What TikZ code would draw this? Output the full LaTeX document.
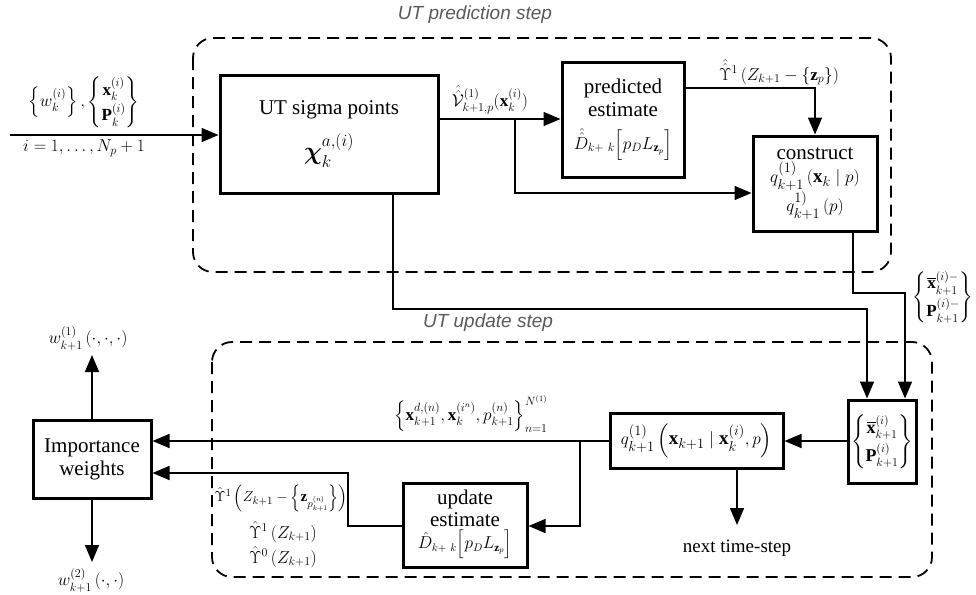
\documentclass[tikz,border=0pt]{standalone}
\usepackage{amsmath,amssymb,bm}
\usepackage{fontspec}
\setmainfont{Liberation Serif}
\newfontfamily\lsans{Liberation Sans}
\usetikzlibrary{arrows.meta}
\begin{document}
\begin{tikzpicture}[x=1pt,y=-1pt,
  box/.style={draw, line width=3pt, align=center, inner sep=0pt, font=\fontsize{21}{23}\selectfont},
  conn/.style={line width=1.6pt},
  arr/.style={conn, -{Triangle[length=17pt,width=14pt]}},
  grp/.style={draw, dash pattern=on 12pt off 7pt, line width=1.8pt, rounded corners=20pt},
  lbl/.style={font=\fontsize{17}{20}\selectfont, inner sep=0pt},
  steplbl/.style={font=\lsans\itshape\fontsize{19}{22}\selectfont, text=black!65, inner sep=0pt}]
\useasboundingbox (0,0) rectangle (976,594);

% group frames
\draw[grp] (193,38) rectangle (891,272);
\draw[grp] (212,342) rectangle (932,577);
\node[steplbl] (tp) at (475,15) {UT prediction step};
\node[steplbl] (tu) at (488,323) {UT update step};

% boxes
\node[box, minimum width=218pt, minimum height=118pt] (sigma) at (329,134) {UT sigma points\\[14pt]{\fontsize{27}{29}\selectfont$\boldsymbol{\chi}_k^{a,(i)}$}};
\node[box, minimum width=122pt, minimum height=115pt] (pred) at (623,119.5) {predicted\\estimate\\[10pt]{\fontsize{17}{20}\selectfont$\hat{\hat{D}}_{k+\ k}\Big[p_D L_{\mathbf{z}_p}\Big]$}};
\node[box, minimum width=124pt, minimum height=95pt] (cons) at (815,183.5) {construct\\{\fontsize{19}{26}\selectfont$q^{(1)}_{k+1}\left(\mathbf{x}_k\mid p\right)$}\\{\fontsize{19}{26}\selectfont$q^{1)}_{k+1}\left(p\right)$}};
\node[box, minimum width=68pt, minimum height=83pt] (state) at (882,441.5) {\fontsize{18}{20}\selectfont$\left\{\begin{matrix}\overline{\mathbf{x}}^{(i)}_{k+1}\\[4pt] \mathbf{P}^{(i)}_{k+1}\end{matrix}\right\}$};
\node[box, minimum width=173pt, minimum height=55pt] (qbox) at (696.5,440.5) {\fontsize{19}{22}\selectfont$q^{(1)}_{k+1}\left(\mathbf{x}_{k+1}\mid \mathbf{x}_k^{(i)},p\right)$};
\node[box, minimum width=124pt, minimum height=84pt, font=\fontsize{21}{22}\selectfont] (upd) at (465,525) {update\\estimate\\{\fontsize{16}{18}\selectfont$\hat{D}_{k+\ k}\Big[p_D L_{\mathbf{z}_p}\Big]$}};
\node[box, minimum width=118pt, minimum height=78pt] (imp) at (92,459) {Importance\\weights};

% coordinates
\coordinate (in) at (10,135);
\coordinate (b1) at (515,119);
\coordinate (p1) at (814,88);
\coordinate (c1) at (853,293);
\coordinate (c2) at (905,293);
\coordinate (s1) at (393,309);
\coordinate (s2) at (867,309);
\coordinate (q1) at (580,441);
\coordinate (u1) at (348,526);
\coordinate (u2) at (348,473);
\coordinate (wup) at (92,355);
\coordinate (wdn) at (92,562);
\coordinate (nx) at (737,525);

% connectors
\draw[arr] (in) -- (in -| sigma.west);
\draw[arr] (sigma.east |- b1) -- (pred.west |- b1);
\draw[arr] (b1) |- (cons.west |- 0,193);
\draw[arr] (pred.east |- p1) -| (cons.north);
\draw[arr] (cons.south -| c1) -- (c1) -- (c2) -- (state.north -| c2);
\draw[arr] (sigma.south -| s1) -- (s1) -- (s2) -- (state.north -| s2);
\draw[arr] (state.west |- q1) -- (qbox.east |- q1);
\draw[arr] (qbox.west |- q1) -- (imp.east |- q1);
\draw[arr] (q1) |- (upd.east |- u1);
\draw[arr] (upd.west |- u1) -- (u1) -- (u2) -- (imp.east |- u2);
\draw[arr] (imp.north) -- (wup);
\draw[arr] (imp.south) -- (wdn);
\draw[arr] (qbox.south -| nx) -- (nx);

% labels
\node[lbl] (lin) at (84,102) {$\left\{w_k^{(i)}\right\},\left\{\begin{matrix}\mathbf{x}_k^{(i)}\\[2pt] \mathbf{P}_k^{(i)}\end{matrix}\right\}$};
\node[lbl] (lidx) at (84,148) {$i=1,\dots,N_p+1$};
\node[lbl] (lv) at (490,100) {$\hat{\hat{\mathcal{V}}}^{(1)}_{k+1,p}(\mathbf{x}_k^{(i)})$};
\node[lbl] (lu) at (779,72) {$\hat{\hat{\Upsilon}}^{1}\left(Z_{k+1}-\left\{\mathbf{z}_p\right\}\right)$};
\node[lbl] (lxm) at (943,297) {$\left\{\begin{matrix}\overline{\mathbf{x}}^{(i)-}_{k+1}\\[4pt] \mathbf{P}^{(i)-}_{k+1}\end{matrix}\right\}$};
\node[lbl] (lset) at (471,414) {$\left\{\mathbf{x}^{d,(n)}_{k+1},\mathbf{x}_k^{(i^n)},p^{(n)}_{k+1}\right\}_{n=1}^{N^{(1)}}$};
\node[lbl, font=\fontsize{15}{18}\selectfont] (l1) at (281,498) {$\hat{\Upsilon}^{1}\left(Z_{k+1}-\left\{\mathbf{z}_{p^{(n)}_{k+1}}\right\}\right)$};
\node[lbl] (l2) at (283,532) {$\hat{\Upsilon}^{1}\left(Z_{k+1}\right)$};
\node[lbl] (l3) at (283,557) {$\hat{\Upsilon}^{0}\left(Z_{k+1}\right)$};
\node[lbl] (w1) at (88,338) {$w^{(1)}_{k+1}\left(\cdot,\cdot,\cdot\right)$};
\node[lbl] (w2) at (91,580) {$w^{(2)}_{k+1}\left(\cdot,\cdot\right)$};
\node[lbl, font=\fontsize{19}{22}\selectfont] (nt) at (737,548) {next time-step};
\end{tikzpicture}
\end{document}
